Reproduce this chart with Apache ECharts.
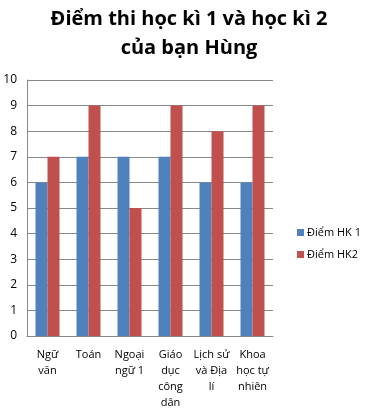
<!DOCTYPE html>
<html><head><meta charset="utf-8">
<script src="https://cdn.jsdelivr.net/npm/echarts@6/dist/echarts.min.js"></script>
<style>html,body{margin:0;padding:0;background:#fff}#c{width:365px;height:411px}</style>
</head><body><div id="c"></div>
<script>
const categories = ["Ngữ\nvăn", "Toán", "Ngoại\nngữ 1", "Giáo\ndục\ncông\ndân", "Lịch sử\nvà Địa\nlí", "Khoa\nhọc tự\nnhiên"];
const hk1 = [6, 7, 7, 7, 6, 6];
const hk2 = [7, 9, 5, 9, 8, 9];
const seriesNames = ["Điểm HK 1", "Điểm HK2"];
const titleText = "Điểm thi học kì 1 và học kì 2\ncủa bạn Hùng";

const chart = echarts.init(document.getElementById('c'), null, {renderer: 'canvas'});
const font = "'Open Sans', 'Liberation Sans', sans-serif";
chart.setOption({
  animation: false,
  title: {
    text: titleText, left: 184, top: 0, textAlign: 'center',
    textStyle: {fontFamily: font, fontWeight: 'bold', fontSize: 20, lineHeight: 29, color: '#000'}
  },
  legend: {
    orient: 'vertical', left: 292, top: 222, itemWidth: 7, itemHeight: 7, itemGap: 11,
    icon: 'rect',
    textStyle: {fontFamily: font, fontSize: 11, color: '#000', padding: [0,0,0,-2]},
    data: seriesNames
  },
  grid: {left: 27, right: 92, top: 80, bottom: 75, containLabel: false},
  xAxis: {
    type: 'category', data: categories,
    axisLine: {show: true, lineStyle: {color: '#888'}},
    axisTick: {show: false},
    axisLabel: {interval: 0, fontFamily: font, fontSize: 11, color: '#000', lineHeight: 16, margin: 11}
  },
  yAxis: {
    type: 'value', min: 0, max: 10, interval: 1,
    axisLine: {show: true, lineStyle: {color: '#888'}},
    axisTick: {show: false},
    splitLine: {show: true, lineStyle: {color: '#888'}},
    axisLabel: {fontFamily: font, fontSize: 12, color: '#000', margin: 10}
  },
  series: [
    {name: seriesNames[0], type: 'bar', data: hk1, barWidth: 12, barGap: '0%', itemStyle: {color: '#4F81BD'}},
    {name: seriesNames[1], type: 'bar', data: hk2, barWidth: 12, itemStyle: {color: '#C0504D'}}
  ]
});
</script></body></html>
